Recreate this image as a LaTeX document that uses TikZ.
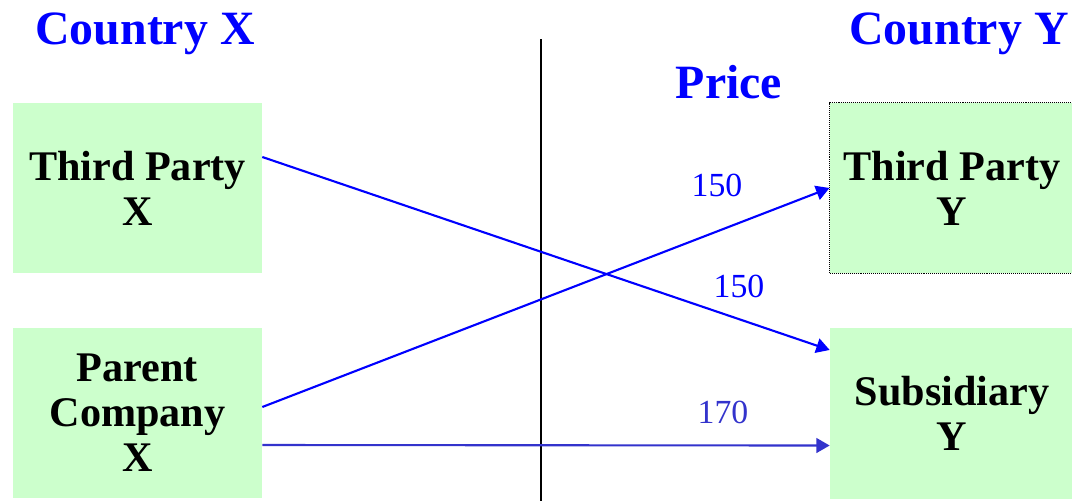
\documentclass[tikz,border=0pt]{standalone}
\usepackage{fontspec}
\setmainfont{Liberation Serif}
\usetikzlibrary{arrows.meta,positioning}
\definecolor{boxgreen}{HTML}{CCFFCC}
\definecolor{linkblue}{HTML}{0000FF}
\definecolor{linkviolet}{HTML}{3333CC}

\begin{document}
\begin{tikzpicture}[x=0.025cm, y=-0.025cm, >={Triangle[length=9.5pt,width=10.5pt]},
  party/.style={fill=boxgreen, minimum width=6.225cm, minimum height=4.25cm, align=center, inner sep=0pt, font=\fontsize{30}{32}\selectfont\bfseries},
  partyy/.style={party, minimum width=6.1cm},
  country/.style={anchor=base, text=linkblue, font=\fontsize{34}{38}\selectfont\bfseries},
  price/.style={anchor=base, text=linkblue, font=\fontsize{24}{28}\selectfont},
  link/.style={->, line width=1.5pt, draw=linkblue}]
\useasboundingbox (0,0) rectangle (1072,501);
\node[country] (cx) at (145,44) {Country X};
\node[country] (cy) at (959,44) {Country Y};
\node[country] (price) at (729,98) {Price};
\node[party] (tpx) at (137.5,188) {Third Party\\X};
\node[party] (pcx) at (137.5,413) {Parent\\Company\\X};
\node[partyy, draw, line width=0.7pt, dash pattern=on 0.7pt off 0.7pt] (tpy) at (952,188) {Third Party\\Y};
\node[partyy, minimum height=4.275cm] (sub) at (952,413.5) {Subsidiary\\Y};
\coordinate (divtop) at (541,39);
\coordinate (divbot) at (541,501);
\draw[line width=1.4pt] (divtop) -- (divbot);
\draw[link] ([yshift=0.775cm]tpx.east) -- ([yshift=1.5875cm]sub.west);
\draw[link] ([yshift=0.15cm]pcx.east) -- (tpy.west);
\draw[link, draw=linkviolet] ([yshift=-0.8cm]pcx.east) -- ([yshift=-0.8cm]sub.west);
\node[price] (p1) at (717,196) {150};
\node[price] (p2) at (739,297) {150};
\node[price, text=linkviolet] (p3) at (723,423) {170};
\end{tikzpicture}
\end{document}
